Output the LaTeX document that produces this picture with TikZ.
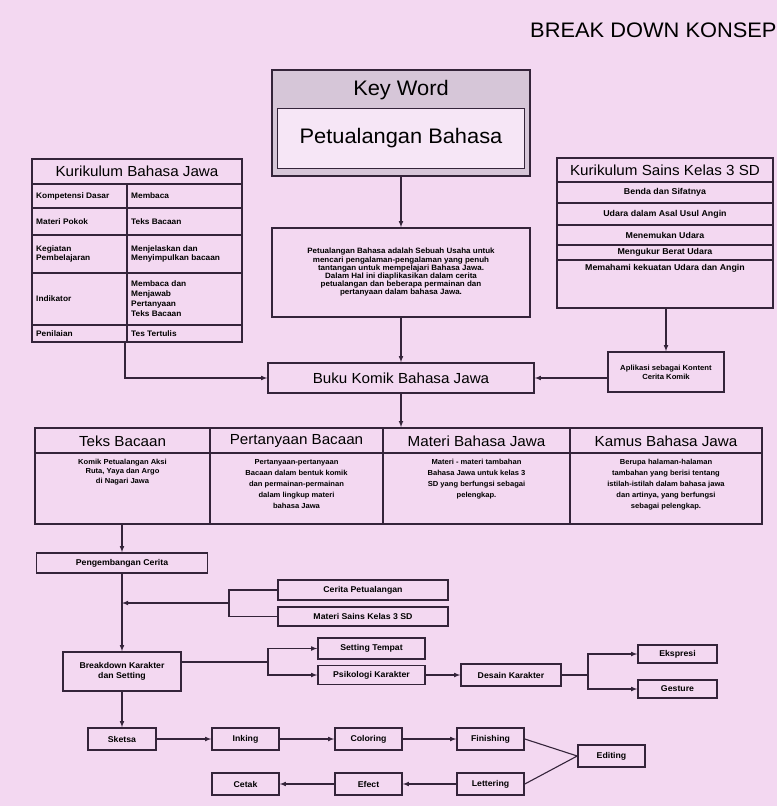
\documentclass[tikz,border=0pt]{standalone}
\usepackage{fontspec}
\setmainfont{Liberation Sans}[FakeStretch=1.04]
\usepackage{tikz}
\usepackage{xcolor}

\definecolor{paper}{RGB}{243,216,241}
\definecolor{ink}{RGB}{52,36,58}
\definecolor{kwgray}{RGB}{214,198,216}
\definecolor{kwlight}{RGB}{246,230,246}
\newcommand{\fsz}[2]{\fontsize{#1}{#2}\selectfont}

\tikzset{
  kbox/.style={draw=ink, line width=1.6pt, inner sep=1pt, align=center, font=\fsz{8.4}{10}\bfseries},
  tframe/.style={draw=ink, line width=1.8pt, inner sep=0pt},
  rule/.style={draw=ink, line width=1.1pt},
  thead/.style={inner sep=0pt, font=\fsz{14.6}{16}},
  ttext/.style={inner sep=0pt, align=left, font=\fsz{8}{9}\bfseries},
  stext/.style={inner sep=0pt, align=center, font=\fsz{8.5}{9}\bfseries},
  mtext/.style={inner sep=0pt, align=center, anchor=north, font=\fsz{7.3}{11}\bfseries},
  conn/.style={draw=ink, line width=1.1pt},
  flow/.style={conn, -latex},
}

\begin{document}
\begin{tikzpicture}[x=1pt,y=-1pt]
  \useasboundingbox (0,0) rectangle (777,806);
  \fill[paper] (0,0) rectangle (777,806);

  % Title
  \node[anchor=west, inner sep=0pt, font=\fsz{21}{23}] (title) at (530,30) {BREAK DOWN KONSEP};

  % Key word
  \node[draw=ink, line width=2.4pt, fill=kwgray, minimum width=258pt, minimum height=106pt] (kw) at (401,123) {};
  \node[inner sep=0pt, font=\fsz{21}{23}] (kwtitle) at (401,90) {Key Word};
  \node[draw=ink, line width=1pt, fill=kwlight, minimum width=247pt, minimum height=60pt, font=\fsz{21}{23}] (kwword) at (401,138) {Petualangan Bahasa};

  % Kurikulum Bahasa Jawa
  \node[tframe, minimum width=210pt, minimum height=183pt] (kbj) at (137,250.5) {};
  \foreach \y in {184,208,235,273,325}
    \draw[rule] (32,\y) -- (242,\y);
  \draw[rule] (127,184) -- (127,342);
  \node[thead] (kbjhead) at (137,171.5) {Kurikulum Bahasa Jawa};
  \node[ttext, anchor=west] (kd) at (36,196) {Kompetensi Dasar};
  \node[ttext, anchor=west] (mp) at (36,221.5) {Materi Pokok};
  \node[ttext, anchor=west] (kp) at (36,254) {Kegiatan\\Pembelajaran};
  \node[ttext, anchor=west] (ind) at (36,299) {Indikator};
  \node[ttext, anchor=west] (pen) at (36,333.5) {Penilaian};
  \node[ttext, anchor=west] (kdv) at (131,196) {Membaca};
  \node[ttext, anchor=west] (mpv) at (131,221.5) {Teks Bacaan};
  \node[ttext, anchor=west] (kpv) at (131,254) {Menjelaskan dan\\Menyimpulkan bacaan};
  \node[ttext, anchor=west, font=\fsz{8}{10}\bfseries] (indv) at (131,299) {Membaca dan\\Menjawab\\Pertanyaan\\Teks Bacaan};
  \node[ttext, anchor=west] (penv) at (131,333.5) {Tes Tertulis};
  \coordinate (kbjout) at (125,342);

  % Kurikulum Sains
  \node[tframe, minimum width=216pt, minimum height=150pt] (sains) at (665,233) {};
  \foreach \y in {182,203,225,245,260}
    \draw[rule] (557,\y) -- (773,\y);
  \node[thead] (sainshead) at (665,170) {Kurikulum Sains Kelas 3 SD};
  \node[stext] (s1) at (665,192.5) {Benda dan Sifatnya};
  \node[stext] (s2) at (665,214) {Udara dalam Asal Usul Angin};
  \node[stext] (s3) at (665,235) {Menemukan Udara};
  \node[stext] (s4) at (665,252.5) {Mengukur Berat Udara};
  \node[stext] (s5) at (665,268) {Memahami kekuatan Udara dan Angin};

  % Deskripsi
  \node[kbox, minimum width=258pt, minimum height=89pt, font=\fsz{7.7}{8.2}\bfseries] (desc) at (401,272.5)
    {Petualangan Bahasa adalah Sebuah Usaha untuk\\mencari pengalaman-pengalaman yang penuh\\tantangan untuk mempelajari Bahasa Jawa.\\Dalam Hal ini diaplikasikan dalam cerita\\petualangan dan beberapa permainan dan\\pertanyaan dalam bahasa Jawa.};

  % Buku komik
  \node[kbox, minimum width=266pt, minimum height=30pt, font=\fsz{14.6}{16}] (buku) at (401,378) {Buku Komik Bahasa Jawa};
  \node[kbox, minimum width=116pt, minimum height=40pt, font=\fsz{7.4}{9}\bfseries] (aplikasi) at (666,372) {Aplikasi sebagai Kontent\\Cerita Komik};

  % Isi buku
  \node[tframe, minimum width=727pt, minimum height=96pt] (media) at (398.5,476) {};
  \draw[rule] (35,453) -- (762,453);
  \foreach \x in {210,383,570}
    \draw[rule] (\x,428) -- (\x,524);
  \node[thead] (teks) at (122.5,441) {Teks Bacaan};
  \node[thead] (tanya) at (296.5,441) {Pertanyaan Bacaan};
  \node[thead] (materi) at (476.5,441) {Materi Bahasa Jawa};
  \node[thead] (kamus) at (666,441) {Kamus Bahasa Jawa};
  \node[mtext, font=\fsz{7.3}{9.5}\bfseries] (teksv) at (122.5,459) {Komik Petualangan Aksi\\Ruta, Yaya dan Argo\\di Nagari Jawa};
  \node[mtext] (tanyav) at (296.5,459) {Pertanyaan-pertanyaan\\Bacaan dalam bentuk komik\\dan permainan-permainan\\dalam lingkup materi\\bahasa Jawa};
  \node[mtext] (materiv) at (476.5,459) {Materi - materi tambahan\\Bahasa Jawa untuk kelas 3\\SD yang berfungsi sebagai\\pelengkap.};
  \node[mtext] (kamusv) at (666,459) {Berupa halaman-halaman\\tambahan yang berisi tentang\\istilah-istilah dalam bahasa jawa\\dan artinya, yang berfungsi\\sebagai pelengkap.};

  % Pengembangan
  \node[kbox, minimum width=171pt, minimum height=20pt] (peng) at (122,563) {Pengembangan Cerita};
  \node[kbox, minimum width=170pt, minimum height=20pt] (cerita) at (363,590) {Cerita Petualangan};
  \node[kbox, minimum width=170pt, minimum height=19pt] (msains) at (363,616.5) {Materi Sains Kelas 3 SD};
  \node[kbox, minimum width=118pt, minimum height=39pt] (breakdown) at (122,671.5) {Breakdown Karakter\\dan Setting};
  \node[kbox, minimum width=107pt, minimum height=21pt] (setting) at (371.5,648.5) {Setting Tempat};
  \node[kbox, minimum width=107pt, minimum height=19pt] (psiko) at (371.5,675) {Psikologi Karakter};
  \node[kbox, minimum width=100pt, minimum height=22pt] (desain) at (511,675) {Desain Karakter};
  \node[kbox, minimum width=79pt, minimum height=18pt] (ekspresi) at (677.5,654) {Ekspresi};
  \node[kbox, minimum width=79pt, minimum height=18pt] (gesture) at (677.5,689) {Gesture};

  % Produksi
  \node[kbox, minimum width=68pt, minimum height=22pt] (sketsa) at (122,739) {Sketsa};
  \node[kbox, minimum width=67pt, minimum height=22pt] (inking) at (245.5,739) {Inking};
  \node[kbox, minimum width=67pt, minimum height=22pt] (coloring) at (368.5,739) {Coloring};
  \node[kbox, minimum width=67pt, minimum height=22pt] (finishing) at (490.5,739) {Finishing};
  \node[kbox, minimum width=67pt, minimum height=22pt] (editing) at (611.5,756) {Editing};
  \node[kbox, minimum width=67pt, minimum height=22pt] (lettering) at (490.5,784) {Lettering};
  \node[kbox, minimum width=67pt, minimum height=22pt] (efect) at (368.5,784) {Efect};
  \node[kbox, minimum width=67pt, minimum height=22pt] (cetak) at (245.5,784) {Cetak};

  % Connectors
  \draw[flow] (kw.south) -- (desc.north);
  \draw[flow] (desc.south) -- (buku.north);
  \draw[flow] (kbjout) |- (buku.west);
  \draw[flow] (sains.south -| aplikasi.north) -- (aplikasi.north);
  \draw[flow] (aplikasi.west |- buku.east) -- (buku.east);
  \draw[flow] (buku.south) -- (buku.south |- media.north);
  \draw[flow] (media.south -| peng.north) -- (peng.north);
  \draw[flow] (peng.south) -- (breakdown.north);
  \coordinate (ja) at (229,603);
  \draw[conn] (cerita.west) -| (ja) |- (msains.west);
  \draw[flow] (ja) -- (ja -| peng.south);
  \coordinate (jb) at (268,662);
  \draw[conn] (breakdown.east |- jb) -- (jb);
  \draw[flow] (jb) |- (setting.west);
  \draw[flow] (jb) |- (psiko.west);
  \draw[flow] (psiko.east) -- (desain.west);
  \coordinate (jc) at (588,675);
  \draw[conn] (desain.east) -- (jc);
  \draw[flow] (jc) |- (ekspresi.west);
  \draw[flow] (jc) |- (gesture.west);
  \draw[flow] (breakdown.south) -- (sketsa.north);
  \draw[flow] (sketsa.east) -- (inking.west);
  \draw[flow] (inking.east) -- (coloring.west);
  \draw[flow] (coloring.east) -- (finishing.west);
  \draw[conn] (finishing.east) -- (editing.west) -- (lettering.east);
  \draw[flow] (lettering.west) -- (efect.east);
  \draw[flow] (efect.west) -- (cetak.east);
\end{tikzpicture}
\end{document}
